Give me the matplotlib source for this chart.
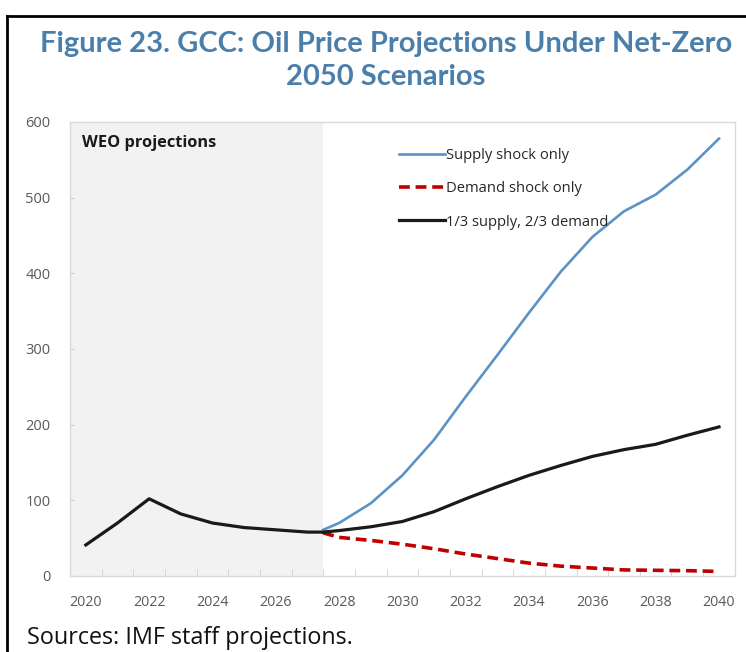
import matplotlib
matplotlib.use("Agg")
import matplotlib.pyplot as plt
from matplotlib.lines import Line2D

# ---- data (USD per barrel) ----
weo_years = [2020, 2021, 2022, 2023, 2024, 2025, 2026, 2027, 2027.5]
weo_price = [41, 70, 102, 82, 70, 64, 61, 58, 58]

scen_years = [2027.5, 2028, 2029, 2030, 2031, 2032, 2033, 2034,
              2035, 2036, 2037, 2038, 2039, 2040]
supply_shock = [61, 70, 96, 133, 180, 237, 292, 348, 402, 448, 482, 504, 537, 578]
demand_shock = [57, 51, 47, 42, 36, 29, 23, 17, 13, 10.5, 8, 7.5, 7, 6]
mixed_shock = [58, 60, 65, 72, 85, 102, 118, 133, 146, 158, 167, 174, 186, 197]

series_labels = ["Supply shock only", "Demand shock only", "1/3 supply, 2/3 demand"]
xtick_years = list(range(2020, 2041, 2))
yticks = [0, 100, 200, 300, 400, 500, 600]

TITLE = "Figure 23. GCC: Oil Price Projections Under Net-Zero\n2050 Scenarios"
SOURCE = "Sources: IMF staff projections."

plt.rcParams['font.family'] = ['Open Sans', 'DejaVu Sans']

fig = plt.figure(figsize=(7.46, 6.52), dpi=100)
ax = fig.add_axes([0.0938, 0.1166, 0.8912, 0.6963])

# shaded WEO window
ax.axvspan(2019.5, 2027.5, color='#f2f2f2', zorder=0, lw=0)

ax.plot(weo_years, weo_price, color='#1a1a1a', lw=2.3, zorder=3)
ax.plot(scen_years, supply_shock, color='#5b93c5', lw=1.9, label=series_labels[0], zorder=3)
ax.plot(scen_years, demand_shock, color='#c00000', lw=2.6, ls=(0, (3, 1.6)),
        label=series_labels[1], zorder=3)
ax.plot(scen_years, mixed_shock, color='#1a1a1a', lw=2.3, label=series_labels[2], zorder=3)

ax.set_xlim(2019.5, 2040.5)
ax.set_ylim(0, 600)
ax.set_xticks(xtick_years)
ax.set_xticks([y + 0.5 for y in range(2019, 2041)], minor=True)
ax.set_yticks(yticks)
ax.tick_params(axis='x', which='major', length=0, pad=14, labelsize=10.3, labelcolor='#595959')
ax.tick_params(axis='x', which='minor', direction='in', length=5, color='#d0d0d0')
ax.tick_params(axis='y', direction='in', length=3, color='#d0d0d0', pad=14,
               labelsize=10.5, labelcolor='#595959')
for s in ax.spines.values():
    s.set_color('#d9d9d9')
    s.set_linewidth(1)

ax.text(0.018, 0.972, "WEO projections", transform=ax.transAxes, ha='left', va='top',
        fontsize=11.8, fontweight='bold', color='#1a1a1a')

leg = ax.legend(loc='upper left', bbox_to_anchor=(0.48, 0.966), frameon=False,
                handlelength=3.1, handletextpad=0.05, labelspacing=1.25,
                fontsize=10.6, borderaxespad=0.3)
for t in leg.get_texts():
    t.set_color('#262626')

fig.text(0.517, 0.952, TITLE, ha='center', va='top', fontsize=21, fontweight='bold',
         color='#4a7eab', linespacing=1.33, family=['Lato', 'DejaVu Sans'])
fig.text(0.036, 0.003, SOURCE, ha='left', va='bottom', fontsize=16.8, color='#111111')

# black frame lines (top and left)
fig.add_artist(Line2D([0.0094, 1.0], [0.975, 0.975], transform=fig.transFigure,
                      color='black', lw=2))
fig.add_artist(Line2D([0.0094, 0.0094], [0.0, 0.975], transform=fig.transFigure,
                      color='black', lw=2))

fig.savefig("out.png", dpi=100)
